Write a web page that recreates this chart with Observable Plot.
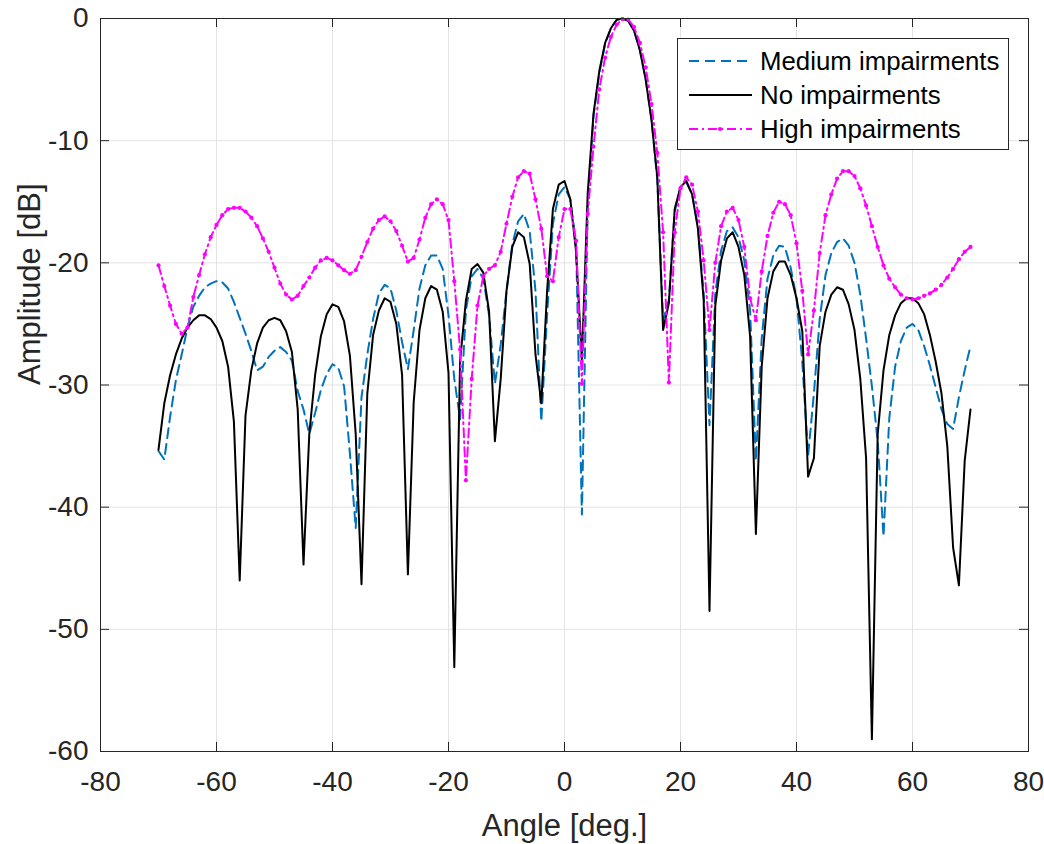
<!DOCTYPE html>
<html><head><meta charset="utf-8">
<script src="https://cdn.jsdelivr.net/npm/d3@7"></script>
<script src="https://cdn.jsdelivr.net/npm/@observablehq/plot@0.6"></script>
<style>body{margin:0;background:#fff;}</style>
</head><body><div id="chart"></div>
<script>
// Sampling grid of the angle axis (1 degree steps)
const angles = d3.range(-70, 71, 1);

// No impairments (black, solid)
const noImp = [
  -35.3,-31.5,-29.2,-27.5,-26.2,-25.3,-24.7,-24.3,-24.3,-24.6,
  -25.3,-26.4,-28.5,-33,-46,-32.5,-28.8,-26.6,-25.3,-24.7,
  -24.5,-24.7,-25.6,-27.3,-32,-44.7,-34,-29.2,-26,-24.2,
  -23.4,-23.6,-24.8,-27.6,-34,-46.3,-30.7,-25.9,-23.9,-22.9,
  -23.2,-25,-29.2,-45.5,-31.4,-25.5,-22.9,-21.9,-22.2,-24,
  -29,-53.1,-28,-23.1,-20.5,-20.1,-20.8,-24,-34.6,-29.5,
  -22.3,-18.7,-17.5,-17.9,-20.1,-27.5,-31.5,-22.3,-15.6,-13.6,
  -13.3,-14.8,-19.1,-28,-14.3,-7.8,-4.3,-2,-0.8,-0.1,
  0,-0.2,-1,-2.6,-5,-8.3,-13,-25.5,-23.3,-15.6,
  -13.8,-13.3,-14.4,-17.2,-23.1,-48.5,-23.5,-19.8,-18,-17.5,
  -18.7,-21,-26,-42.2,-28.5,-22.9,-20.7,-19.9,-19.9,-21,
  -22.9,-25.6,-37.5,-36,-26.8,-24,-22.6,-22,-22.2,-23.4,
  -25.5,-29.5,-36,-59,-34,-28.8,-25.9,-24.3,-23.3,-22.9,
  -22.9,-23.3,-24.2,-25.9,-28.1,-30.7,-35,-43.3,-46.4,-36.2,
  -32
];

// Medium impairments (blue, dashed)
const medImp = [
  -35.4,-36.1,-32.6,-29.6,-27.5,-25.3,-23.6,-22.7,-22,-21.7,
  -21.5,-21.6,-22.1,-23.2,-24.5,-25.8,-27.2,-28.8,-28.5,-27.7,
  -27.2,-26.9,-27.3,-28,-30.5,-32,-34,-32.3,-30.4,-29.1,
  -28.3,-28.6,-30.1,-35.6,-41.7,-31,-27.5,-24.6,-22.5,-21.8,
  -22.1,-23.9,-26.5,-28.7,-25.5,-22.1,-20.2,-19.4,-19.4,-20.5,
  -24.3,-29.5,-32.8,-23.9,-21.1,-20.5,-21.3,-24.3,-29.9,-26.7,
  -22.3,-18.5,-16.6,-16,-17.4,-22.3,-33,-24.3,-16.8,-14.4,
  -13.8,-14.8,-18.4,-40.6,-15.5,-8,-4.5,-2.1,-0.8,-0.1,
  0,-0.2,-1,-2.6,-5,-8.3,-13.2,-24.7,-23,-15.8,
  -13.8,-13.4,-14.4,-17,-22.5,-33.3,-22.5,-19,-17.4,-17.1,
  -17.9,-19.8,-23.9,-36.2,-26.2,-21.3,-19.4,-18.6,-18.7,-20.4,
  -22.9,-28.1,-35.8,-30.7,-24.6,-21,-19.2,-18.3,-18,-18.6,
  -20,-22.6,-26.2,-30.1,-34.6,-42.4,-32.7,-28.5,-26.4,-25.3,
  -25,-25.5,-26.8,-28.4,-30.2,-32,-33.2,-33.6,-31,-28.8,
  -26.8
];

// High impairments (magenta, dash-dot with point markers)
const highImp = [
  -20.2,-21.9,-23.5,-25,-25.8,-25.3,-22.8,-21,-19.3,-17.9,
  -16.9,-16.1,-15.6,-15.5,-15.5,-15.8,-16.3,-17,-18,-19.1,
  -20.4,-21.7,-22.6,-23,-22.7,-21.9,-21.2,-20.4,-19.8,-19.6,
  -19.8,-20.2,-20.6,-20.9,-20.6,-19.5,-18.3,-17.2,-16.5,-16.2,
  -16.6,-17.4,-18.6,-19.9,-19.6,-18.1,-16.3,-15.2,-14.8,-15.2,
  -16.5,-21.5,-27.1,-37.8,-29.5,-23.5,-21.1,-20.5,-20.2,-19.1,
  -16.8,-14.6,-13,-12.5,-12.7,-14.8,-17.2,-21.1,-21.5,-17.9,
  -15.6,-15.6,-18.2,-29.9,-16,-10.5,-5.8,-3.2,-1.5,-0.5,
  -0.05,-0.1,-0.7,-2,-4,-7,-11,-17.5,-29.8,-17.5,
  -13.9,-13,-13.6,-15.8,-19.8,-25.5,-20,-17,-15.8,-15.5,
  -16.5,-18.7,-22.9,-24.7,-20.7,-17.8,-15.9,-15,-15.2,-16.1,
  -18.4,-22.3,-27.5,-23.9,-19.2,-16.1,-14.4,-13.1,-12.5,-12.5,
  -12.9,-13.9,-15.3,-17,-18.7,-20.2,-21.3,-22,-22.6,-22.9,
  -23,-22.9,-22.7,-22.5,-22.2,-21.8,-21.2,-20.5,-19.7,-19.1,
  -18.7
];

const xTicks = [-80, -60, -40, -20, 0, 20, 40, 60, 80];
const yTicks = [-60, -50, -40, -30, -20, -10, 0];
const seriesNames = ["Medium impairments", "No impairments", "High impairments"];
const seriesColors = ["#0072BD", "#000000", "#FF00FF"];
const seriesDash = ["10,6", null, "9,4,2,4"];
const xLabel = "Angle [deg.]";
const yLabel = "Amplitude [dB]";

const W = 1044, H = 844;
const mL = 100, mR = 16, mT = 18, mB = 93;
const axisColor = "#262626";
const gridColor = "#e3e3e3";
const tickPx = 9;
const lw = 2;
const xDom = [-80, 80], yDom = [-60, 0];
const tickX = tickPx * (xDom[1] - xDom[0]) / (W - mL - mR);
const tickY = tickPx * (yDom[1] - yDom[0]) / (H - mT - mB);

const toRows = vals => angles.map((a, i) => ({angle: a, amp: vals[i]}));
const medRows = toRows(medImp), noRows = toRows(noImp), highRows = toRows(highImp);

const chart = Plot.plot({
  width: W, height: H,
  marginLeft: mL, marginRight: mR, marginTop: mT, marginBottom: mB,
  style: {fontFamily: "'Liberation Sans', Arial, Helvetica, sans-serif", color: axisColor, background: "#fff"},
  x: {domain: xDom, axis: null},
  y: {domain: yDom, axis: null},
  marks: [
    Plot.ruleX(xTicks, {stroke: gridColor, strokeWidth: 1}),
    Plot.ruleY(yTicks, {stroke: gridColor, strokeWidth: 1}),
    Plot.line(medRows, {x: "angle", y: "amp", stroke: seriesColors[0], strokeWidth: lw, strokeDasharray: seriesDash[0]}),
    Plot.line(noRows, {x: "angle", y: "amp", stroke: seriesColors[1], strokeWidth: lw}),
    Plot.line(highRows, {x: "angle", y: "amp", stroke: seriesColors[2], strokeWidth: lw, strokeDasharray: seriesDash[2]}),
    Plot.dot(highRows, {x: "angle", y: "amp", r: 2.1, fill: seriesColors[2], stroke: null}),
    // inward ticks on all four sides
    Plot.ruleX(xTicks, {y1: yDom[0], y2: yDom[0] + tickY, stroke: axisColor}),
    Plot.ruleX(xTicks, {y1: yDom[1], y2: yDom[1] - tickY, stroke: axisColor}),
    Plot.ruleY(yTicks, {x1: xDom[0], x2: xDom[0] + tickX, stroke: axisColor}),
    Plot.ruleY(yTicks, {x1: xDom[1], x2: xDom[1] - tickX, stroke: axisColor}),
    Plot.frame({stroke: axisColor, strokeWidth: 1}),
    Plot.axisX({ticks: xTicks, anchor: "bottom", tickSize: 0, tickPadding: 20, fontSize: 28, fill: axisColor, tickFormat: d => String(d), label: null}),
    Plot.axisY({ticks: yTicks, anchor: "left", tickSize: 0, tickPadding: 12, fontSize: 28, fill: axisColor, tickFormat: d => String(d), label: null}),
    Plot.text([xLabel], {text: d => d, frameAnchor: "bottom", dy: 84, lineAnchor: "bottom", fontSize: 31, fill: axisColor}),
    Plot.text([yLabel], {text: d => d, frameAnchor: "left", rotate: -90, dx: -61, lineAnchor: "bottom", fontSize: 31, fill: axisColor})
  ]
});

document.getElementById("chart").appendChild(chart);

// Legend box inside the axes (upper right)
const svg = d3.select(chart);
const lg = svg.append("g").attr("font-family", "'Liberation Sans', Arial, Helvetica, sans-serif").attr("text-anchor", "start");
lg.append("rect").attr("x", 677.5).attr("y", 38.5).attr("width", 331).attr("height", 111)
  .attr("fill", "#fff").attr("stroke", axisColor).attr("stroke-width", 1);
const rowY = [61, 95, 129];
seriesNames.forEach((name, i) => {
  const l = lg.append("line").attr("x1", 689).attr("x2", 752).attr("y1", rowY[i]).attr("y2", rowY[i])
    .attr("stroke", seriesColors[i]).attr("stroke-width", lw);
  if (seriesDash[i]) l.attr("stroke-dasharray", seriesDash[i]);
  if (i === 2) lg.append("circle").attr("cx", 720).attr("cy", rowY[i]).attr("r", 2.1).attr("fill", seriesColors[i]);
  lg.append("text").attr("x", 760).attr("y", rowY[i]).attr("dy", "0.35em").attr("font-size", 25.8)
    .attr("text-anchor", "start").attr("fill", "#000").text(name);
});
</script>
</body></html>
